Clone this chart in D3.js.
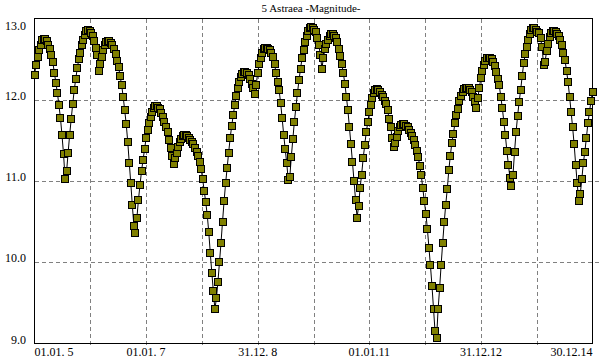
<!DOCTYPE html>
<html>
<head>
<meta charset="utf-8">
<title>5 Astraea -Magnitude-</title>
<script src="https://d3js.org/d3.v7.min.js"></script>
<style>
  body { margin: 0; background: #fff; }
  svg text { font-family: "Liberation Serif", "DejaVu Serif", serif; fill: #000; }
</style>
</head>
<body>
<svg width="600" height="360"></svg>
<script>
// sampling of the ephemeris: first date and step in days
var startDate = "2005-01-01";
var endDate = "2014-12-30";
var stepDays = 10;

// magnitude, one value per step
var mags = [
  12.30,12.43,12.53,12.61,12.68,12.73,12.75,12.75,12.72,12.68,
  12.63,12.55,12.46,12.33,12.21,12.08,11.93,11.77,11.56,11.33,
  11.03,11.12,11.35,11.57,11.76,11.95,12.12,12.26,12.39,12.50,
  12.58,12.67,12.74,12.80,12.85,12.86,12.85,12.82,12.78,12.72,
  12.64,12.55,12.36,12.44,12.53,12.61,12.67,12.71,12.72,12.72,
  12.70,12.67,12.63,12.56,12.48,12.40,12.29,12.18,12.04,11.87,
  11.70,11.48,11.22,10.97,10.70,10.45,10.36,10.55,10.77,10.95,
  11.12,11.26,11.39,11.53,11.63,11.71,11.79,11.85,11.90,11.92,
  11.92,11.90,11.88,11.84,11.79,11.73,11.67,11.60,11.51,11.41,
  11.31,11.21,11.28,11.35,11.42,11.48,11.52,11.55,11.56,11.56,
  11.55,11.53,11.51,11.48,11.45,11.40,11.36,11.31,11.24,11.15,
  11.02,10.88,10.74,10.58,10.37,10.11,9.87,9.64,9.42,9.56,
  9.76,10.00,10.24,10.50,10.75,10.97,11.16,11.35,11.53,11.68,
  11.81,11.94,12.05,12.14,12.22,12.28,12.32,12.34,12.34,12.33,
  12.30,12.25,12.20,12.14,12.07,12.18,12.33,12.44,12.52,12.58,
  12.63,12.64,12.64,12.63,12.61,12.58,12.53,12.44,12.33,12.22,
  12.12,11.96,11.77,11.57,11.39,11.22,11.01,11.05,11.30,11.52,
  11.73,11.91,12.08,12.24,12.38,12.51,12.61,12.71,12.79,12.85,
  12.88,12.89,12.88,12.86,12.83,12.76,12.67,12.55,12.38,12.52,
  12.62,12.69,12.74,12.79,12.81,12.81,12.79,12.76,12.71,12.63,
  12.54,12.44,12.33,12.20,12.04,11.87,11.66,11.45,11.23,11.00,
  10.77,10.55,10.69,10.92,11.08,11.28,11.44,11.60,11.72,11.85,
  11.93,12.02,12.08,12.12,12.13,12.12,12.09,12.06,12.03,11.99,
  11.95,11.87,11.76,11.66,11.53,11.42,11.47,11.54,11.62,11.67,
  11.69,11.70,11.70,11.68,11.66,11.63,11.59,11.55,11.51,11.44,
  11.37,11.29,11.19,11.07,10.91,10.75,10.60,10.41,10.18,9.96,
  9.71,9.43,9.15,9.07,9.42,9.68,9.97,10.24,10.49,10.71,
  10.90,11.13,11.31,11.47,11.58,11.71,11.81,11.89,11.98,12.05,
  12.10,12.13,12.15,12.15,12.14,12.12,12.09,12.03,11.97,11.90,
  12.02,12.15,12.27,12.36,12.43,12.48,12.51,12.52,12.51,12.50,
  12.47,12.42,12.34,12.26,12.18,12.04,11.90,11.73,11.56,11.37,
  11.20,11.04,10.94,11.08,11.36,11.60,11.80,11.97,12.12,12.29,
  12.45,12.56,12.65,12.74,12.81,12.86,12.88,12.88,12.86,12.84,
  12.82,12.76,12.65,12.43,12.47,12.60,12.69,12.77,12.82,12.85,
  12.85,12.83,12.81,12.79,12.74,12.68,12.58,12.49,12.36,12.22,
  12.04,11.85,11.66,11.45,11.20,10.97,10.75,10.84,11.02,11.22,
  11.36,11.53,11.71,11.85,11.98,12.10
];

var xLabels = ["01.01. 5", "01.01. 7", "31.12. 8", "01.01.11", "31.12.12", "30.12.14"];
var yTicks = [9, 10, 11, 12, 13];
var title = "5 Astraea -Magnitude-";

var svg = d3.select("svg"),
    plotL = 34.5, plotR = 592.5, plotT = 18.5, plotB = 343.5;

var t0 = new Date(startDate + "T00:00:00Z"),
    t1 = new Date(endDate + "T00:00:00Z");

var x = d3.scaleUtc().domain([t0, t1]).range([plotL, plotR]);
var y = d3.scaleLinear().domain([9, 13]).range([plotB, plotT]);

var data = mags.map(function (m, i) {
  return { date: d3.utcDay.offset(t0, i * stepDays), mag: m };
});

// grid: 10 equal intervals on the time axis
var gridDates = d3.range(11).map(function (k) {
  return new Date(+t0 + (t1 - t0) * k / 10);
});

var grid = svg.append("g")
    .attr("stroke", "#808080")
    .attr("stroke-dasharray", "4,3")
    .attr("shape-rendering", "crispEdges");

grid.selectAll(".vg")
  .data(gridDates.slice(1, 10))
  .enter().append("line")
    .attr("x1", function (d) { return Math.round(x(d)) + 0.5; })
    .attr("x2", function (d) { return Math.round(x(d)) + 0.5; })
    .attr("y1", plotT)
    .attr("y2", plotB + 4);

grid.selectAll(".hg")
  .data(yTicks.slice(1, 4))
  .enter().append("line")
    .attr("x1", plotL)
    .attr("x2", 599)
    .attr("y1", function (d) { return Math.round(y(d)) + 0.5; })
    .attr("y2", function (d) { return Math.round(y(d)) + 0.5; });

// frame
svg.append("rect")
    .attr("x", plotL).attr("y", plotT)
    .attr("width", plotR - plotL).attr("height", plotB - plotT)
    .attr("fill", "none")
    .attr("stroke", "#000")
    .attr("shape-rendering", "crispEdges");

// title
svg.append("text")
    .attr("x", 311)
    .attr("y", 12)
    .attr("text-anchor", "middle")
    .style("font-size", "11px")
    .text(title);

// y labels
svg.selectAll(".ylab")
  .data(yTicks)
  .enter().append("text")
    .attr("x", 26)
    .attr("y", function (d) { return d === 13 ? y(d) + 11 : y(d); })
    .attr("text-anchor", "end")
    .style("font-size", "12px")
    .text(function (d) { return d.toFixed(1); });

// x labels, one every two grid intervals
svg.selectAll(".xlab")
  .data(xLabels)
  .enter().append("text")
    .attr("x", function (d, i) { return x(gridDates[i * 2]); })
    .attr("y", 356)
    .attr("text-anchor", function (d, i) {
      return i === 0 ? "start" : (i === xLabels.length - 1 ? "end" : "middle");
    })
    .style("font-size", "12px")
    .text(function (d) { return d; });

// line
var line = d3.line()
    .x(function (d) { return x(d.date); })
    .y(function (d) { return y(d.mag); });

svg.append("path")
    .datum(data)
    .attr("fill", "none")
    .attr("stroke", "#000")
    .attr("stroke-width", 1)
    .attr("d", line);

// square markers
svg.append("g")
    .attr("shape-rendering", "crispEdges")
  .selectAll("rect")
  .data(data)
  .enter().append("rect")
    .attr("x", function (d) { return Math.round(x(d.date)) - 3.5; })
    .attr("y", function (d) { return Math.round(y(d.mag)) - 3.5; })
    .attr("width", 7)
    .attr("height", 7)
    .attr("fill", "#808000")
    .attr("stroke", "#000")
    .attr("stroke-width", 1);
</script>
</body>
</html>
